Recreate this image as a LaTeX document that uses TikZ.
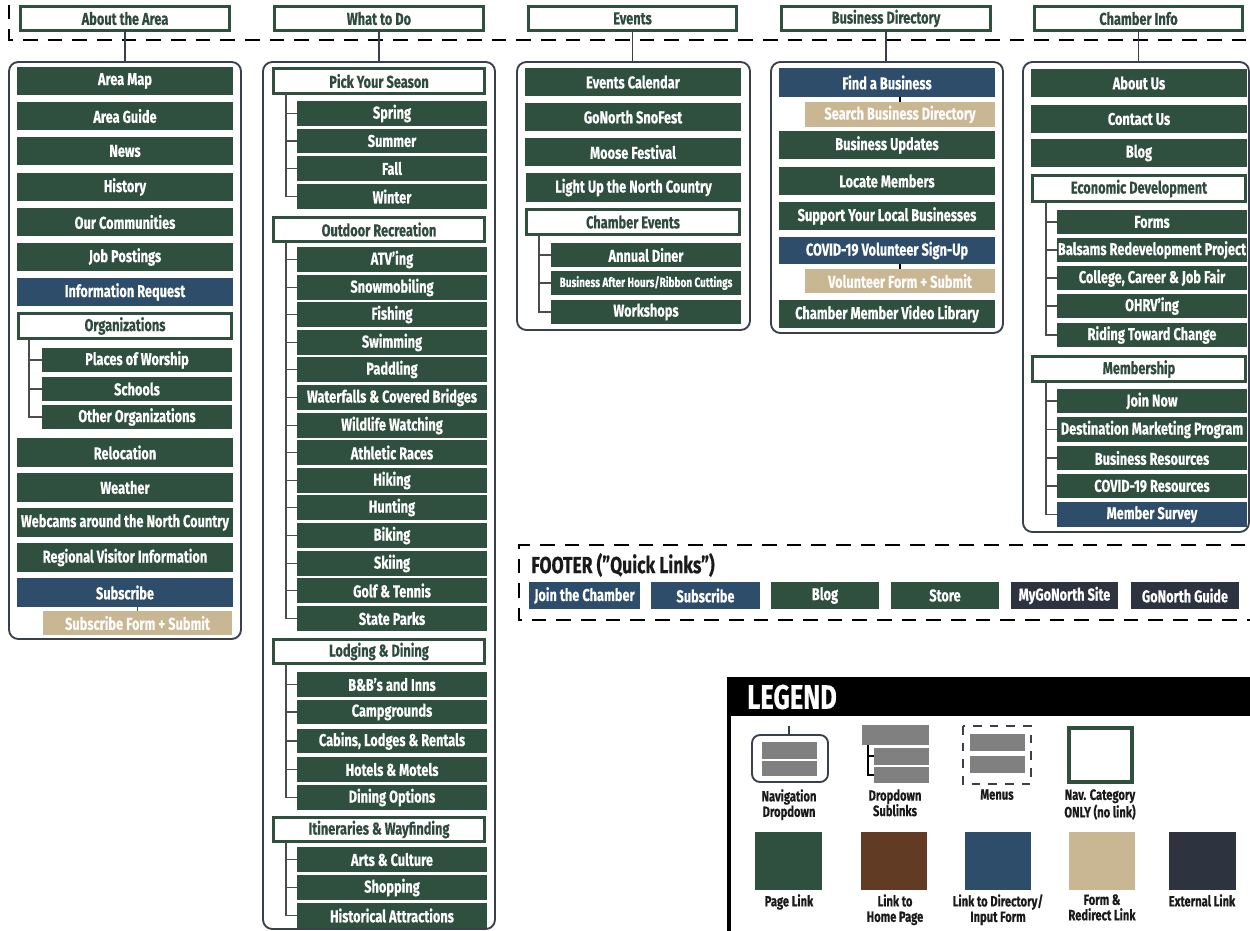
\documentclass[tikz,border=0pt]{standalone}
\usepackage{fontspec}
\setmainfont{Fira Sans}[FakeStretch=0.75, BoldFeatures={FakeBold=0.4}]
\usetikzlibrary{calc}
\definecolor{pg}{HTML}{30503F}
\definecolor{db}{HTML}{2E4D6B}
\definecolor{tanc}{HTML}{C9B793}
\definecolor{brn}{HTML}{623B24}
\definecolor{ext}{HTML}{2E3340}
\definecolor{cattxt}{HTML}{2F4A3E}
\definecolor{frame}{HTML}{3A3F4C}
\definecolor{lgray}{HTML}{808080}
\definecolor{ink}{HTML}{1A1A1A}
\tikzset{
 base/.style={inner sep=0pt, outer sep=0pt, font=\bfseries\fontsize{12.8}{13}\selectfont, align=center},
 pl/.style={base, fill=pg, text=white},
 dl/.style={base, fill=db, text=white},
 fl/.style={base, fill=tanc, text=white!95!tanc},
 el/.style={base, fill=ext, text=white},
 cat/.style={base, fill=white, draw=pg, line width=2.4pt, text=cattxt},
 panel/.style={draw=frame, line width=1.4pt, rounded corners=7pt, inner sep=0pt, outer sep=0pt},
 link/.style={draw=frame, line width=1.2pt},
 tree/.style={draw=black!70, line width=1pt},
 bigdash/.style={draw=black, line width=1.6pt, dash pattern=on 11pt off 7.5pt},
 small/.style={font=\bfseries\fontsize{10}{10}\selectfont},
 lbl/.style={inner sep=0pt, font=\bfseries\fontsize{11.2}{11.6}\selectfont, text=ink, align=center, anchor=north},
}
\newcommand{\bx}[7]{\node[#1, minimum width={((#5)-(#3))*0.75pt}, minimum height={((#6)-(#4))*0.75pt}] (#2) at ({((#3)+(#5))/2},{((#4)+(#6))/2}) {#7};}
\newcommand{\cbx}[6]{\node[cat, minimum width={((#4)-(#2)-3)*0.75pt}, minimum height={((#5)-(#3)-3)*0.75pt}] (#1) at ({((#2)+(#4))/2},{((#3)+(#5))/2}) {#6};}
\begin{document}
\begin{tikzpicture}[x=0.75pt,y=-0.75pt]
\useasboundingbox (0,0) rectangle (1250,931);
% top menu dashed frame
\coordinate (mtl) at (9,-20);
\coordinate (mbr) at (1270,40);
\draw[bigdash] (mtl) |- (mbr);
% headers
\cbx{h1}{19}{5}{231}{32}{About the Area}
\cbx{h2}{273}{5}{485}{32}{What to Do}
\cbx{h3}{527}{5}{738}{32}{Events}
\cbx{h4}{780}{5}{992}{32}{Business Directory}
\cbx{h5}{1033}{5}{1244}{32}{Chamber Info}
% panels
\bx{panel}{p1}{9}{62}{241}{639}{}
\bx{panel}{p2}{263}{62}{495}{929}{}
\bx{panel}{p3}{517}{62}{750}{330}{}
\bx{panel}{p4}{771}{62}{1003}{333}{}
\bx{panel}{p5}{1023}{62}{1249}{532}{}
\foreach \i in {1,...,5}{\draw[link] (h\i.south) -- (h\i.south |- p\i.north);}
% ---- About the Area
\bx{pl}{a1}{17}{67}{233}{95}{Area Map}
\bx{pl}{a2}{17}{102}{233}{130}{Area Guide}
\bx{pl}{a3}{17}{137}{233}{165}{News}
\bx{pl}{a4}{17}{173}{233}{201}{History}
\bx{pl}{a5}{17}{208}{233}{236}{Our Communities}
\bx{pl}{a6}{17}{243}{233}{271}{Job Postings}
\bx{dl}{a7}{17}{278}{233}{306}{Information Request}
\cbx{ac}{17}{312}{233}{340}{Organizations}
\bx{pl}{a8}{42}{348}{232}{372}{Places of Worship}
\bx{pl}{a9}{42}{377}{232}{401}{Schools}
\bx{pl}{a10}{42}{405}{232}{429}{Other Organizations}
\bx{pl}{a11}{17}{438}{233}{467}{Relocation}
\bx{pl}{a12}{17}{473}{233}{502}{Weather}
\bx{pl}{a13}{17}{508}{233}{537}{Webcams around the North Country}
\bx{pl}{a14}{17}{543}{233}{572}{Regional Visitor Information}
\bx{dl}{a15}{17}{578}{233}{607}{Subscribe}
\bx{fl}{a16}{43}{611}{232}{635}{Subscribe Form + Submit}
\coordinate (ta) at (29,0);
\draw[tree] (ac.south -| ta) |- (a10.west);
\foreach \n in {a8,a9}{\draw[tree] (ta |- \n.west) -- (\n.west);}
\draw[tree] (a16.north |- a15.south) -- (a16.north);
% ---- What to Do
\cbx{bc1}{272}{67}{486}{95}{Pick Your Season}
\bx{pl}{b1}{297}{101}{487}{126}{Spring}
\bx{pl}{b2}{297}{129}{487}{153}{Summer}
\bx{pl}{b3}{297}{156}{487}{181}{Fall}
\bx{pl}{b4}{297}{184}{487}{209}{Winter}
\cbx{bc2}{272}{216}{486}{243}{Outdoor Recreation}
\bx{pl}{o1}{297}{247}{487}{272}{ATV’ing}
\bx{pl}{o2}{297}{275}{487}{300}{Snowmobiling}
\bx{pl}{o3}{297}{302}{487}{327}{Fishing}
\bx{pl}{o4}{297}{330}{487}{355}{Swimming}
\bx{pl}{o5}{297}{357}{487}{382}{Paddling}
\bx{pl}{o6}{297}{385}{487}{410}{Waterfalls \& Covered Bridges}
\bx{pl}{o7}{297}{413}{487}{438}{Wildlife Watching}
\bx{pl}{o8}{297}{440}{487}{465}{Athletic Races}
\bx{pl}{o9}{297}{468}{487}{493}{Hiking}
\bx{pl}{o10}{297}{495}{487}{520}{Hunting}
\bx{pl}{o11}{297}{523}{487}{548}{Biking}
\bx{pl}{o12}{297}{551}{487}{576}{Skiing}
\bx{pl}{o13}{297}{578}{487}{603}{Golf \& Tennis}
\bx{pl}{o14}{297}{606}{487}{631}{State Parks}
\cbx{bc3}{272}{638}{486}{665}{Lodging \& Dining}
\bx{pl}{l1}{297}{672}{487}{697}{B\&B’s and Inns}
\bx{pl}{l2}{297}{700}{487}{724}{Campgrounds}
\bx{pl}{l3}{297}{729}{487}{753}{Cabins, Lodges \& Rentals}
\bx{pl}{l4}{297}{757}{487}{782}{Hotels \& Motels}
\bx{pl}{l5}{297}{785}{487}{810}{Dining Options}
\cbx{bc4}{272}{816}{486}{843}{Itineraries \& Wayfinding}
\bx{pl}{w1}{297}{847}{487}{872}{Arts \& Culture}
\bx{pl}{w2}{297}{875}{487}{900}{Shopping}
\bx{pl}{w3}{297}{903}{487}{928}{Historical Attractions}
\coordinate (tb) at (286,0);
\draw[tree] (bc1.south -| tb) |- (b4.west);
\foreach \n in {b1,b2,b3}{\draw[tree] (tb |- \n.west) -- (\n.west);}
\draw[tree] (bc2.south -| tb) |- (o14.west);
\foreach \n in {o1,o2,o3,o4,o5,o6,o7,o8,o9,o10,o11,o12,o13}{\draw[tree] (tb |- \n.west) -- (\n.west);}
\draw[tree] (bc3.south -| tb) |- (l5.west);
\foreach \n in {l1,l2,l3,l4}{\draw[tree] (tb |- \n.west) -- (\n.west);}
\draw[tree] (bc4.south -| tb) |- (w3.west);
\foreach \n in {w1,w2}{\draw[tree] (tb |- \n.west) -- (\n.west);}
% ---- Events
\bx{pl}{c1}{525}{68}{741}{96}{Events Calendar}
\bx{pl}{c2}{525}{103}{741}{131}{GoNorth SnoFest}
\bx{pl}{c3}{525}{138}{741}{166}{Moose Festival}
\bx{pl}{c4}{526}{173}{741}{202}{Light Up the North Country}
\cbx{cc}{525}{208}{741}{236}{Chamber Events}
\bx{pl}{c5}{551}{243}{741}{267}{Annual Diner}
\bx{pl,small}{c6}{551}{271}{741}{295}{Business After Hours/Ribbon Cuttings}
\bx{pl}{c7}{551}{300}{741}{324}{Workshops}
\coordinate (tc) at (539,0);
\draw[tree] (cc.south -| tc) |- (c7.west);
\foreach \n in {c5,c6}{\draw[tree] (tc |- \n.west) -- (\n.west);}
% ---- Business Directory
\bx{dl}{d1}{779}{68}{995}{97}{Find a Business}
\bx{fl}{d2}{805}{102}{995}{127}{Search Business Directory}
\bx{pl}{d3}{779}{131}{995}{159}{Business Updates}
\bx{pl}{d4}{779}{167}{995}{195}{Locate Members}
\bx{pl}{d5}{779}{202}{995}{230}{Support Your Local Businesses}
\bx{dl}{d6}{779}{237}{995}{264}{COVID-19 Volunteer Sign-Up}
\bx{fl}{d7}{805}{269}{995}{293}{Volunteer Form + Submit}
\bx{pl}{d8}{779}{300}{995}{328}{Chamber Member Video Library}
\draw[tree,draw=black] (d2.north |- d1.south) -- (d2.north);
\draw[tree,draw=black] (d7.north |- d6.south) -- (d7.north);
% ---- Chamber Info
\bx{pl}{e1}{1031}{69}{1247}{97}{About Us}
\bx{pl}{e2}{1031}{105}{1247}{133}{Contact Us}
\bx{pl}{e3}{1031}{139}{1247}{167}{Blog}
\cbx{ec1}{1031}{174}{1247}{203}{Economic Development}
\bx{pl}{f1}{1057}{210}{1247}{234}{Forms}
\bx{pl}{f2}{1057}{238}{1247}{262}{Balsams Redevelopment Project}
\bx{pl}{f3}{1057}{266}{1247}{290}{College, Career \& Job Fair}
\bx{pl}{f4}{1057}{294}{1247}{318}{OHRV’ing}
\bx{pl}{f5}{1057}{323}{1247}{347}{Riding Toward Change}
\cbx{ec2}{1031}{355}{1247}{383}{Membership}
\bx{pl}{m1}{1057}{389}{1247}{413}{Join Now}
\bx{pl}{m2}{1057}{417}{1247}{442}{Destination Marketing Program}
\bx{pl}{m3}{1057}{446}{1247}{470}{Business Resources}
\bx{pl}{m4}{1057}{474}{1247}{498}{COVID-19 Resources}
\bx{dl}{m5}{1057}{502}{1247}{527}{Member Survey}
\coordinate (te) at (1046,0);
\draw[tree] (ec1.south -| te) |- (f5.west);
\foreach \n in {f1,f2,f3,f4}{\draw[tree] (te |- \n.west) -- (\n.west);}
\draw[tree] (ec2.south -| te) |- (m5.west);
\foreach \n in {m1,m2,m3,m4}{\draw[tree] (te |- \n.west) -- (\n.west);}
% ---- Footer
\coordinate (ftr) at (1270,545);
\coordinate (fbl) at (519,620);
\coordinate (fbr) at (1270,620);
\draw[bigdash] (ftr) -| (fbl) -- (fbr);
\node[inner sep=0pt, anchor=west, text=ink, font=\bfseries\fontsize{17.5}{18}\selectfont] (ft) at (531,565) {FOOTER ("Quick Links”)};
\bx{dl}{q1}{529}{582}{640}{609}{Join the Chamber}
\bx{dl}{q2}{651}{582}{760}{609}{Subscribe}
\bx{pl}{q3}{771}{582}{879}{609}{Blog}
\bx{pl}{q4}{891}{582}{999}{609}{Store}
\bx{el}{q5}{1011}{582}{1118}{609}{MyGoNorth Site}
\bx{el}{q6}{1131}{582}{1239}{609}{GoNorth Guide}
% ---- Legend
\bx{base,fill=black}{lg}{727}{677}{1250}{716}{}
\node[inner sep=0pt, anchor=west, text=white, font=\bfseries\fontsize{25.5}{26}\selectfont] (lgt) at (747,697) {LEGEND};
\draw[line width=2.6pt] (lg.south west) ++(2,0) -- ++(0,230);
% nav dropdown icon
\draw[frame, line width=1.4pt, rounded corners=6pt] (752,735) rectangle (828,782);
\draw[frame, line width=1.2pt] (789,726) -- (789,735);
\fill[lgray] (762,742) rectangle (817,758.5);
\fill[lgray] (762,760.5) rectangle (817,776);
% dropdown sublinks icon
\fill[lgray] (862,725) rectangle (929,745);
\fill[lgray] (874,747.5) rectangle (929,765);
\fill[lgray] (874,767) rectangle (929,783);
\draw[black, line width=1pt] (868,745) |- (874,775);
\draw[black, line width=1pt] (868,756) -- (874,756);
% menus icon
\draw[frame, line width=1.4pt, dash pattern=on 6.5pt off 6pt] (963,726) rectangle (1031,784);
\fill[lgray] (970,734) rectangle (1025,751);
\fill[lgray] (970,756) rectangle (1025,773);
% nav category icon
\draw[pg, line width=3pt] (1069,728) rectangle (1132,782);
% colour swatches
\fill[pg] (755,832) rectangle (822,890);
\fill[brn] (861,832) rectangle (927,890);
\fill[db] (965,832) rectangle (1031,890);
\fill[tanc] (1069,832) rectangle (1135,890);
\fill[ext] (1169,832) rectangle (1236,890);
% legend labels
\node[lbl] (L1) at (789,789) {Navigation\\Dropdown};
\node[lbl] (L2) at (895,789) {Dropdown\\Sublinks};
\node[lbl] (L3) at (997,789) {Menus};
\node[lbl] (L4) at (1100,789) {Nav. Category\\ONLY (no link)};
\node[lbl] (L5) at (789,894) {Page Link};
\node[lbl] (L6) at (895,894) {Link to\\Home Page};
\node[lbl] (L7) at (998,894) {Link to Directory/\\Input Form};
\node[lbl] (L8) at (1102,894) {Form \&\\Redirect Link};
\node[lbl] (L9) at (1202,894) {External Link};
\end{tikzpicture}
\end{document}
